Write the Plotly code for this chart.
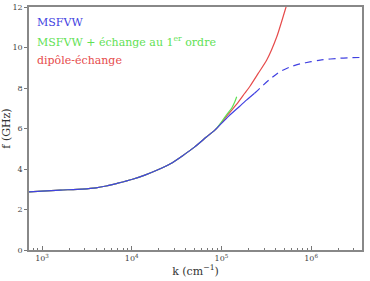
import plotly.graph_objects as go

# Data
k_blue = [716, 1000, 1600, 2800, 4000, 5200, 7000, 10000, 14000, 19000, 27000,
          37000, 50000, 68000, 85000, 100000, 120000, 160000, 190000, 234000]
f_blue = [2.87, 2.91, 2.96, 3.01, 3.07, 3.16, 3.30, 3.48, 3.70, 3.94, 4.26,
          4.66, 5.08, 5.58, 5.93, 6.25, 6.6, 7.1, 7.4, 7.74]

k_blue_dash = [234000, 270000, 350000, 450000, 575000, 750000, 1000000,
               1260000, 2100000, 3700000]
f_blue_dash = [7.74, 8.0, 8.45, 8.81, 9.03, 9.19, 9.3, 9.38, 9.47, 9.51]

k_red = [716, 1000, 1600, 2800, 4000, 5200, 7000, 10000, 14000, 19000, 27000,
         37000, 50000, 68000, 85000, 100000, 120000, 148000, 182000, 209000,
         257000, 320000, 414000, 525000, 575000]
f_red = [2.87, 2.91, 2.96, 3.01, 3.07, 3.16, 3.30, 3.48, 3.70, 3.94, 4.26,
         4.66, 5.08, 5.58, 5.93, 6.28, 6.72, 7.2, 7.74, 8.1,
         8.72, 9.38, 10.53, 12.0, 12.6]

k_green = [716, 1000, 1600, 2800, 4000, 5200, 7000, 10000, 14000, 19000, 27000,
           37000, 50000, 68000, 85000, 100000, 115000, 130000, 141000, 148000]
f_green = [2.87, 2.91, 2.96, 3.01, 3.07, 3.16, 3.30, 3.48, 3.70, 3.94, 4.26,
           4.66, 5.08, 5.58, 5.93, 6.32, 6.7, 7.0, 7.32, 7.57]

x_major = [1000, 10000, 100000, 1000000]
x_major_text = ["10<sup>3</sup>", "10<sup>4</sup>", "10<sup>5</sup>", "10<sup>6</sup>"]
x_minor = [800, 900] + [m * 10 ** e for e in range(3, 7) for m in range(2, 10) if m * 10 ** e < 3700000]
y_ticks = [0, 2, 4, 6, 8, 10, 12]

legend_labels = ["MSFVW", "MSFVW + échange au 1<sup>er</sup> ordre", "dipôle-échange"]

BLUE = "rgb(65,65,225)"
GREEN = "rgb(95,225,85)"
RED = "rgb(230,75,75)"
SERIF = "DejaVu Serif"

fig = go.Figure()
line_common = dict(width=1.2, shape="spline", smoothing=0.6)
fig.add_trace(go.Scatter(x=k_red, y=f_red, mode="lines",
                         line=dict(color=RED, **line_common)))
fig.add_trace(go.Scatter(x=k_green, y=f_green, mode="lines",
                         line=dict(color=GREEN, **line_common)))
fig.add_trace(go.Scatter(x=k_blue, y=f_blue, mode="lines",
                         line=dict(color=BLUE, **line_common)))
fig.add_trace(go.Scatter(x=k_blue_dash, y=f_blue_dash, mode="lines",
                         line=dict(color=BLUE, dash="7px,5px", **line_common)))

for i, (txt, col) in enumerate(zip(legend_labels, [BLUE, GREEN, RED])):
    fig.add_annotation(x=0.018, y=0.937 - i * 0.078, xref="paper", yref="paper",
                       xanchor="left", yanchor="middle", showarrow=False,
                       text=txt, font=dict(family=SERIF, size=11, color=col))

fig.update_layout(
    width=370, height=281,
    margin=dict(l=29, r=8, t=7, b=31),
    plot_bgcolor="white", paper_bgcolor="white",
    showlegend=False,
    font=dict(family=SERIF, color="#444"),
)
fig.update_xaxes(
    type="log", range=[2.855, 6.567], automargin=False,
    tickmode="array", tickvals=x_major, ticktext=x_major_text,
    ticks="inside", ticklen=4, tickcolor="#777", tickwidth=1,
    minor=dict(tickmode="array", tickvals=x_minor, ticks="inside", ticklen=2,
               tickcolor="#777", tickwidth=1, showgrid=False),
    showgrid=False, zeroline=False,
    showline=True, linecolor="#888", linewidth=1.5, mirror=True,
    tickfont=dict(family=SERIF, size=8, color="#444"),
    title=dict(text="k (cm<sup>−1</sup>)", font=dict(family=SERIF, size=11, color="#333"), standoff=3),
)
fig.update_yaxes(
    range=[0, 12], tickvals=y_ticks, automargin=False,
    ticks="outside", ticklen=3, tickcolor="#777", tickwidth=1,
    showgrid=False, zeroline=False,
    showline=True, linecolor="#888", linewidth=1.5, mirror=True,
    tickfont=dict(family=SERIF, size=8, color="#444"),
    title=dict(text="f (GHz)", font=dict(family=SERIF, size=11, color="#333"), standoff=3),
)

fig.write_html("out.html")
